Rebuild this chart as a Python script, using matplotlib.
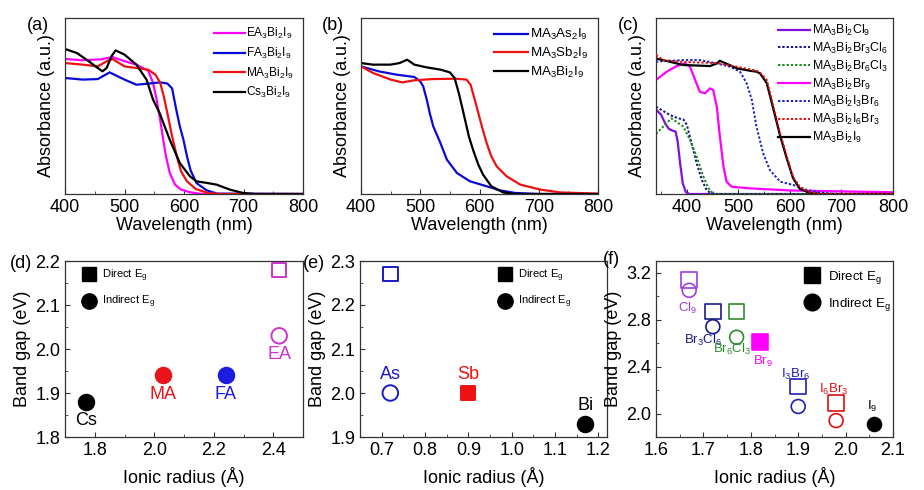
import matplotlib.pyplot as plt
import numpy as np
from matplotlib.lines import Line2D
from matplotlib.ticker import MultipleLocator

plt.rcParams['font.family'] = ['Liberation Sans', 'DejaVu Sans']
plt.rcParams['mathtext.fontset'] = 'custom'
plt.rcParams['mathtext.rm'] = 'Liberation Sans'
plt.rcParams['mathtext.it'] = 'Liberation Sans:italic'
plt.rcParams['mathtext.bf'] = 'Liberation Sans:bold'
plt.rcParams['mathtext.default'] = 'regular'

# ---------------- (a) A-site cation, absorbance (normalised) ----------------
ea_wl = [400, 430, 460, 480, 500, 520, 540, 548, 554, 560, 565, 570, 576, 585, 595, 610, 630, 800]
ea_abs = [0.767, 0.760, 0.765, 0.778, 0.755, 0.735, 0.700, 0.631, 0.536, 0.420, 0.310, 0.210, 0.120, 0.053, 0.025, 0.010, 0.0, 0.0]

fa_wl = [400, 430, 455, 475, 500, 520, 540, 560, 572, 580, 587, 593, 599, 605, 611, 621, 638, 655, 800]
fa_abs = [0.659, 0.650, 0.653, 0.691, 0.650, 0.621, 0.627, 0.634, 0.628, 0.600, 0.479, 0.384, 0.309, 0.214, 0.135, 0.062, 0.021, 0.002, 0.0]

ma_wl = [400, 430, 455, 470, 480, 500, 520, 540, 552, 560, 566, 572, 580, 588, 595, 605, 620, 640, 660, 800]
ma_abs = [0.744, 0.735, 0.725, 0.754, 0.767, 0.725, 0.716, 0.706, 0.678, 0.631, 0.555, 0.460, 0.328, 0.214, 0.129, 0.072, 0.028, 0.006, 0.0, 0.0]

cs_wl = [400, 420, 440, 455, 463, 470, 478, 485, 500, 520, 537, 548, 559, 576, 593, 610, 621, 640, 655, 677, 699, 720, 800]
cs_abs = [0.824, 0.801, 0.754, 0.716, 0.697, 0.716, 0.782, 0.816, 0.792, 0.735, 0.650, 0.536, 0.460, 0.309, 0.176, 0.100, 0.072, 0.062, 0.053, 0.025, 0.006, 0.0, 0.0]

# ---------------- (b) B-site metal ----------------
as_wl = [400, 430, 460, 490, 500, 505, 511, 516, 522, 534, 545, 562, 584, 612, 634, 660, 700, 800]
as_abs = [0.725, 0.697, 0.678, 0.665, 0.640, 0.612, 0.536, 0.460, 0.384, 0.290, 0.195, 0.119, 0.072, 0.044, 0.021, 0.006, 0.0, 0.0]

sb_wl = [400, 420, 450, 470, 490, 520, 560, 578, 585, 595, 604, 612, 620, 629, 646, 669, 703, 736, 800]
sb_abs = [0.725, 0.688, 0.650, 0.634, 0.646, 0.653, 0.655, 0.650, 0.621, 0.498, 0.384, 0.290, 0.214, 0.157, 0.100, 0.053, 0.025, 0.009, 0.002]

bi_wl = [400, 420, 450, 465, 478, 490, 510, 535, 550, 558, 565, 573, 582, 590, 598, 606, 620, 640, 660, 800]
bi_abs = [0.744, 0.735, 0.735, 0.744, 0.763, 0.735, 0.720, 0.706, 0.691, 0.659, 0.574, 0.460, 0.328, 0.242, 0.167, 0.110, 0.044, 0.009, 0.0, 0.0]

# ---------------- (c) halide mixing ----------------
cl9_wl = [340, 350, 358, 365, 372, 378, 382, 387, 392, 398, 405, 800]
cl9_abs = [0.48, 0.45, 0.40, 0.37, 0.36, 0.355, 0.30, 0.17, 0.06, 0.01, 0.0, 0.0]

br3cl6_wl = [340, 367, 383, 393, 400, 409, 419, 429, 438, 448, 800]
br3cl6_abs = [0.496, 0.449, 0.430, 0.424, 0.392, 0.288, 0.174, 0.080, 0.023, 0.0, 0.0]

br6cl3_wl = [340, 354, 370, 393, 406, 419, 432, 442, 451, 800]
br6cl3_abs = [0.341, 0.383, 0.430, 0.383, 0.307, 0.212, 0.098, 0.032, 0.0, 0.0]

br9_wl = [340, 361, 380, 396, 406, 416, 425, 435, 445, 451, 458, 464, 471, 477, 487, 523, 600, 800]
br9_abs = [0.648, 0.695, 0.727, 0.742, 0.723, 0.648, 0.581, 0.572, 0.600, 0.591, 0.496, 0.326, 0.155, 0.070, 0.041, 0.032, 0.020, 0.010]

i3br6_wl = [340, 393, 425, 458, 484, 503, 516, 526, 535, 548, 561, 581, 607, 633, 665, 690, 800]
i3br6_abs = [0.752, 0.761, 0.761, 0.742, 0.723, 0.695, 0.629, 0.534, 0.383, 0.231, 0.136, 0.070, 0.051, 0.023, 0.006, 0.0, 0.0]

i6br3_wl = [340, 354, 393, 458, 497, 523, 535, 542, 555, 568, 581, 594, 606, 619, 639, 660, 800]
i6br3_abs = [0.790, 0.761, 0.750, 0.744, 0.723, 0.708, 0.700, 0.690, 0.648, 0.496, 0.345, 0.212, 0.098, 0.041, 0.009, 0.0, 0.0]

i9_wl = [340, 393, 445, 458, 464, 477, 497, 523, 535, 542, 555, 568, 581, 594, 606, 619, 639, 660, 800]
i9_abs = [0.770, 0.733, 0.727, 0.742, 0.757, 0.740, 0.714, 0.700, 0.695, 0.685, 0.630, 0.480, 0.330, 0.200, 0.090, 0.030, 0.005, 0.0, 0.0]

# ---------------- (d) band gap vs A-site radius ----------------
d_labels = ['Cs', 'MA', 'FA', 'EA']
d_radius = [1.77, 2.03, 2.24, 2.42]
d_direct = [np.nan, np.nan, np.nan, 2.18]
d_indirect = [1.88, 1.94, 1.94, 2.03]
d_filled = [True, True, True, False]

# ---------------- (e) band gap vs B-site radius ----------------
e_labels = ['As', 'Sb', 'Bi']
e_radius = [0.72, 0.90, 1.17]
e_direct = [2.27, 2.00, np.nan]
e_indirect = [2.00, np.nan, 1.93]
e_filled = [False, True, True]

# ---------------- (f) band gap vs halide radius ----------------
f_labels = ['Cl$_9$', 'Br$_3$Cl$_6$', 'Br$_6$Cl$_3$', 'Br$_9$', 'I$_3$Br$_6$', 'I$_6$Br$_3$', 'I$_9$']
f_radius = [1.67, 1.72, 1.77, 1.82, 1.90, 1.98, 2.06]
f_direct = [3.14, 2.87, 2.87, 2.61, 2.23, 2.09, np.nan]
f_indirect = [3.05, 2.74, 2.65, np.nan, 2.06, 1.94, 1.91]
f_filled = [False, False, False, True, False, False, True]

MAG = '#FF00FF'
RED = '#EE1111'
BLUE = '#0A0AD8'
SPINE = '#333333'

fig = plt.figure(figsize=(9.24, 4.9), dpi=100)
W, H = 924, 490


def px_axes(l, r, t, b):
    return fig.add_axes([l / W, 1 - b / H, (r - l) / W, (b - t) / H])


ax_a = px_axes(65, 303, 18, 194)
ax_b = px_axes(361, 598, 18, 194)
ax_c = px_axes(656, 893, 18, 194)
ax_d = px_axes(65, 303, 261, 437)
ax_e = px_axes(360, 607, 261, 437)
ax_f = px_axes(656, 893, 261, 437)


def style(ax):
    for s in ax.spines.values():
        s.set_color(SPINE)
        s.set_linewidth(0.9)
    ax.tick_params(which='both', direction='in', labelsize=13, color=SPINE)
    ax.tick_params(which='major', length=3.5)
    ax.tick_params(which='minor', length=2.5)


def spectrum_axes(ax, x0):
    style(ax)
    ax.set_xlim(x0, 800)
    ax.set_ylim(0, 1)
    ax.set_yticks([])
    ax.xaxis.set_major_locator(MultipleLocator(100))
    ax.xaxis.set_minor_locator(MultipleLocator(50))
    ax.set_xlabel('Wavelength (nm)', fontsize=13, labelpad=1)
    ax.set_ylabel('Absorbance (a.u.)', fontsize=13, labelpad=7)


lw = 1.6
ax_a.plot(ea_wl, ea_abs, color=MAG, lw=lw, label='EA$_3$Bi$_2$I$_9$')
ax_a.plot(fa_wl, fa_abs, color=BLUE, lw=lw, label='FA$_3$Bi$_2$I$_9$')
ax_a.plot(ma_wl, ma_abs, color=RED, lw=lw, label='MA$_3$Bi$_2$I$_9$')
ax_a.plot(cs_wl, cs_abs, color='black', lw=lw, label='Cs$_3$Bi$_2$I$_9$')
spectrum_axes(ax_a, 400)

ax_b.plot(as_wl, as_abs, color=BLUE, lw=lw, label='MA$_3$As$_2$I$_9$')
ax_b.plot(sb_wl, sb_abs, color=RED, lw=lw, label='MA$_3$Sb$_2$I$_9$')
ax_b.plot(bi_wl, bi_abs, color='black', lw=lw, label='MA$_3$Bi$_2$I$_9$')
spectrum_axes(ax_b, 400)

dot = (0, (1.2, 1.0))
ax_c.plot(cl9_wl, cl9_abs, color='#8010E0', lw=lw, label='MA$_3$Bi$_2$Cl$_9$')
ax_c.plot(br3cl6_wl, br3cl6_abs, color='#101080', lw=1.4, ls=dot, label='MA$_3$Bi$_2$Br$_3$Cl$_6$')
ax_c.plot(br6cl3_wl, br6cl3_abs, color='#1A8A1A', lw=1.4, ls=dot, label='MA$_3$Bi$_2$Br$_6$Cl$_3$')
ax_c.plot(br9_wl, br9_abs, color=MAG, lw=lw, label='MA$_3$Bi$_2$Br$_9$')
ax_c.plot(i3br6_wl, i3br6_abs, color='#1E1EC8', lw=1.4, ls=dot, label='MA$_3$Bi$_2$I$_3$Br$_6$')
ax_c.plot(i9_wl, i9_abs, color='black', lw=lw, zorder=2)
ax_c.plot(i6br3_wl, i6br3_abs, color='#E01010', lw=1.4, ls=dot, label='MA$_3$Bi$_2$I$_6$Br$_3$', zorder=3)
ax_c.plot([], [], color='black', lw=lw, label='MA$_3$Bi$_2$I$_9$')
spectrum_axes(ax_c, 340)

for ax, fs, sp, pad in ((ax_a, 8.6, 0.38, 0.3), (ax_b, 9.6, 0.28, 0.3), (ax_c, 8.9, 0.22, 0.0)):
    ax.legend(loc='upper right', frameon=False, fontsize=fs, handlelength=2.6,
              handletextpad=0.15, labelspacing=sp, borderaxespad=pad)

fig.text(27 / W, 1 - 26 / H, '(a)', fontsize=13, va='center')
fig.text(322 / W, 1 - 26 / H, '(b)', fontsize=13, va='center')
fig.text(618 / W, 1 - 26 / H, '(c)', fontsize=13, va='center')
fig.text(10 / W, 1 - 263 / H, '(d)', fontsize=13, va='center')
fig.text(303 / W, 1 - 263 / H, '(e)', fontsize=13, va='center')
fig.text(603 / W, 1 - 259 / H, '(f)', fontsize=13, va='center')


def gap_points(ax, xs, direct, indirect, filled, colors, sq, ci, mlw=1.4):
    for x, dv, iv, fl, c in zip(xs, direct, indirect, filled, colors):
        fc = c if fl else 'none'
        if not np.isnan(dv):
            ax.scatter([x], [dv], s=sq, marker='s', facecolors=fc, edgecolors=c, linewidths=mlw, zorder=3)
        if not np.isnan(iv):
            ax.scatter([x], [iv], s=ci, marker='o', facecolors=fc, edgecolors=c, linewidths=mlw, zorder=3)


def gap_axes(ax, xlim, ylim, xmaj, xmin, ymaj, ymin):
    style(ax)
    ax.set_xlim(*xlim)
    ax.set_ylim(*ylim)
    ax.xaxis.set_major_locator(MultipleLocator(xmaj))
    ax.xaxis.set_minor_locator(MultipleLocator(xmin))
    ax.yaxis.set_major_locator(MultipleLocator(ymaj))
    ax.yaxis.set_minor_locator(MultipleLocator(ymin))
    ax.set_xlabel('Ionic radius (Å)', fontsize=13, labelpad=6)
    ax.set_ylabel('Band gap (eV)', fontsize=13, labelpad=3)


def eg_legend(ax, x0, fs, sq_ms, ci_ms, spacing):
    handles = [Line2D([], [], ls='none', marker='s', color='black', markersize=sq_ms),
               Line2D([], [], ls='none', marker='o', color='black', markersize=ci_ms)]
    ax.legend(handles, ['Direct E$_g$', 'Indirect E$_g$'], loc='upper left',
              bbox_to_anchor=(x0, 1.0), frameon=False, fontsize=fs, handlelength=1.2,
              handletextpad=0.6, labelspacing=spacing, borderaxespad=0.2)


d_colors = ['black', '#E8141B', '#1C1CE0', '#CC33CC']
gap_points(ax_d, d_radius, d_direct, d_indirect, d_filled, d_colors, 95, 125)
for x, y, t, c in zip(d_radius, d_indirect, d_labels, d_colors):
    ax_d.annotate(t, (x, y), xytext=(0, -13.5), textcoords='offset points',
                  ha='center', va='center', fontsize=13, color=c)
gap_axes(ax_d, (1.7, 2.5), (1.8, 2.2), 0.2, 0.1, 0.1, 0.05)
eg_legend(ax_d, 0.045, 8, 10, 11, 0.9)

e_colors = ['#1A1AC8', '#EE1111', 'black']
gap_points(ax_e, e_radius, e_direct, e_indirect, e_filled, e_colors, 110, 125)
e_anchor = [2.00, 2.00, 1.93]
for x, y, t, c in zip(e_radius, e_anchor, e_labels, e_colors):
    ax_e.annotate(t, (x, y), xytext=(0, 13), textcoords='offset points',
                  ha='center', va='center', fontsize=13, color=c)
gap_axes(ax_e, (0.65, 1.22), (1.9, 2.3), 0.1, 0.05, 0.1, 0.05)
eg_legend(ax_e, 0.533, 8, 10, 11, 0.9)

f_colors = ['#9B40E0', '#1A1A8C', '#2E8B2E', MAG, '#2020B0', '#DD1111', 'black']
gap_points(ax_f, f_radius, f_direct, f_indirect, f_filled, f_colors, 130, 100, mlw=1.2)
f_offsets = [(-1, -13), (-7, -10), (-3, -9), (2, -14), (-2, 9), (-2, 10), (-1, 13)]
for x, dv, iv, t, c, (dx, dy) in zip(f_radius, f_direct, f_indirect, f_labels, f_colors, f_offsets):
    if dy > 0:
        y = dv if not np.isnan(dv) else iv
    else:
        y = iv if not np.isnan(iv) else dv
    ax_f.annotate(t, (x, y), xytext=(dx, dy), textcoords='offset points',
                  ha='center', va='center', fontsize=9.5, color=c)
gap_axes(ax_f, (1.6, 2.1), (1.8, 3.3), 0.1, 0.05, 0.4, 0.2)
eg_legend(ax_f, 0.592, 9.5, 11, 12, 0.75)

fig.savefig('out.png', dpi=100)
